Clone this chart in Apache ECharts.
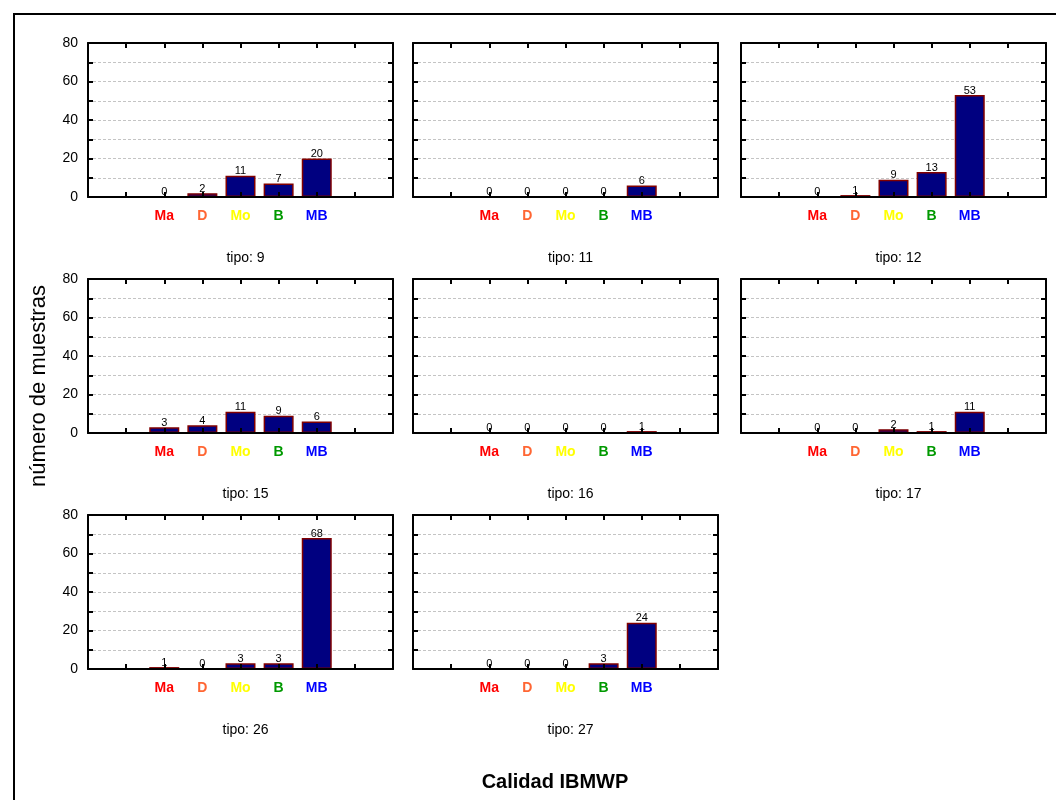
<!DOCTYPE html>
<html>
<head>
<meta charset="utf-8">
<script src="https://cdn.jsdelivr.net/npm/echarts@6/dist/echarts.min.js"></script>
<style>
  html, body { margin: 0; padding: 0; background: #fff; }
  #chart { width: 1056px; height: 800px; }
</style>
</head>
<body>
<div id="chart"></div>
<script>
// categorias de calidad (con huecos a los lados como en el original)
const categories = ["", "", "Ma", "D", "Mo", "B", "MB", "", ""];
const catColors = { Ma: "#ff0000", D: "#ff6633", Mo: "#ffff00", B: "#009900", MB: "#0000ff" };

const tipos = ["tipo: 9", "tipo: 11", "tipo: 12", "tipo: 15", "tipo: 16", "tipo: 17", "tipo: 26", "tipo: 27"];
// numero de muestras: Ma, D, Mo, B, MB
const tipo9 = [0, 2, 11, 7, 20];
const tipo11 = [0, 0, 0, 0, 6];
const tipo12 = [0, 1, 9, 13, 53];
const tipo15 = [3, 4, 11, 9, 6];
const tipo16 = [0, 0, 0, 0, 1];
const tipo17 = [0, 0, 2, 1, 11];
const tipo26 = [1, 0, 3, 3, 68];
const tipo27 = [0, 0, 0, 3, 24];
const panelData = [tipo9, tipo11, tipo12, tipo15, tipo16, tipo17, tipo26, tipo27];

const yTicks = [0, 20, 40, 60, 80];

const colLeft = [88, 413, 741];
const colWidth = 305;
const rowTop = [43, 279, 515];
const rowHeight = 154;

const chart = echarts.init(document.getElementById("chart"));

const grids = [], xAxes = [], yAxes = [], series = [], titles = [];
const FONT = "Liberation Sans, Arial";
const axisLine = { show: true, onZero: false, lineStyle: { color: "#000", width: 2 } };
const axisTick = { show: true, inside: true, length: 5, lineStyle: { color: "#000", width: 2 } };

panelData.forEach((vals, i) => {
  const col = i % 3, row = Math.floor(i / 3);
  grids.push({
    left: colLeft[col], top: rowTop[row], width: colWidth, height: rowHeight,
  });
  // eje x inferior
  xAxes.push({
    gridIndex: i, type: "category", data: categories, boundaryGap: false,
    position: "bottom", z: 3,
    axisLine: axisLine,
    axisTick: axisTick,
    axisLabel: {
      margin: 12, fontFamily: FONT, fontSize: 14, fontWeight: "bold",
      interval: 0,
      color: (v) => catColors[v] || "#000",
    },
  });
  // eje x superior (solo marcas)
  xAxes.push({
    gridIndex: i, type: "category", data: categories, boundaryGap: false,
    position: "top", z: 3,
    axisLine: axisLine,
    axisTick: axisTick,
    axisLabel: { show: false },
  });
  yAxes.push({
    gridIndex: i, type: "value", min: 0, max: 80, interval: 10, position: "left",
    axisLine: axisLine,
    axisTick: axisTick,
    axisLabel: {
      show: col === 0, margin: 10, fontFamily: FONT, fontSize: 14, color: "#000",
      formatter: (v) => (yTicks.includes(v) ? String(v) : ""),
    },
    splitLine: { show: true, lineStyle: { color: "#c4c4c4", type: [3, 2], width: 1 } },
  });
  yAxes.push({
    gridIndex: i, type: "value", min: 0, max: 80, interval: 10, position: "right",
    axisLine: axisLine,
    axisTick: axisTick,
    axisLabel: { show: false },
    splitLine: { show: false },
  });
  series.push({
    type: "bar",
    xAxisIndex: 2 * i, yAxisIndex: 2 * i,
    data: [null, null, ...vals, null, null],
    barWidth: 30,
    itemStyle: { color: "#000080", borderColor: "#800000", borderWidth: 1.5 },
    label: {
      show: true, position: "top", distance: -1, color: "#000",
      fontFamily: FONT, fontSize: 11,
    },
    silent: true,
  });
  titles.push({
    text: tipos[i],
    left: colLeft[col] + colWidth / 2, top: rowTop[row] + rowHeight + 49,
    textAlign: "center",
    textStyle: { fontFamily: FONT, fontSize: 14, fontWeight: "normal", color: "#000" },
  });
});

const option = {
  backgroundColor: "#fff",
  animation: false,
  title: titles,
  grid: grids,
  xAxis: xAxes,
  yAxis: yAxes,
  series: series,
  graphic: [
    // marco exterior
    { type: "rect", shape: { x: 14, y: 14, width: 1100, height: 900 }, style: { fill: null, stroke: "#000", lineWidth: 2 }, silent: true },
    {
      type: "text", x: 39, y: 386, rotation: Math.PI / 2,
      style: { text: "número de muestras", font: "22px Liberation Sans, Arial", fill: "#000", align: "center", verticalAlign: "middle" },
    },
    {
      type: "text", x: 555, y: 782,
      style: { text: "Calidad IBMWP", font: "bold 20px Liberation Sans, Arial", fill: "#000", align: "center", verticalAlign: "middle" },
    },
  ],
};

chart.setOption(option);
</script>
</body>
</html>
